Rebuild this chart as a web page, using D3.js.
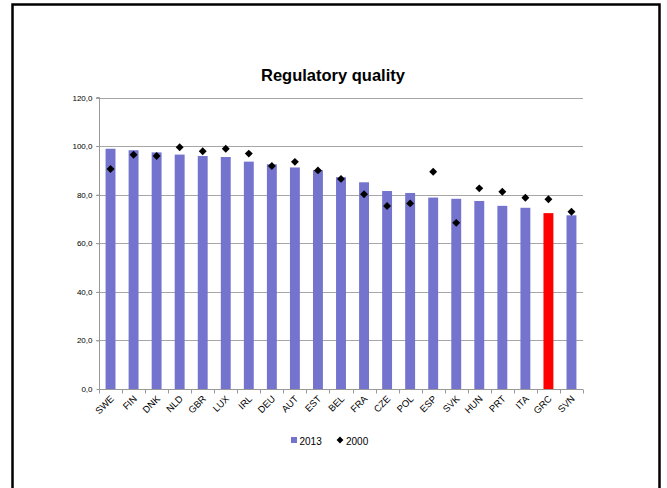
<!DOCTYPE html>
<html><head><meta charset="utf-8">
<script src="https://cdn.jsdelivr.net/npm/d3@7"></script>
<style>body{margin:0;background:#fff}svg{display:block}</style>
</head><body>
<svg id="c" width="667" height="488"></svg>
<script>
const categories = ["SWE","FIN","DNK","NLD","GBR","LUX","IRL","DEU","AUT","EST","BEL","FRA","CZE","POL","ESP","SVK","HUN","PRT","ITA","GRC","SVN"];
const values2013 = [98.9,98.3,97.4,96.5,95.9,95.5,93.6,92.5,91.2,90.1,87.2,85.1,81.5,80.7,78.8,78.3,77.4,75.4,74.6,72.4,71.5];
const values2000 = [90.6,96.4,95.9,99.5,97.9,98.9,96.9,91.8,93.5,90.0,86.5,80.2,75.3,76.4,89.4,68.4,82.6,81.2,78.7,78.1,73.0];
const highlight = "GRC";
const yTicks = [0,20,40,60,80,100,120];
const seriesNames = ["2013","2000"];

const svg = d3.select("#c");
const font = "'Liberation Sans', Arial, sans-serif";

// outer frame
svg.append("rect").attr("x",12.5).attr("y",4.5).attr("width",647).attr("height",500)
  .attr("fill","#fff").attr("stroke","#000").attr("stroke-width",2.5);

const x = d3.scaleBand().domain(categories).range([99,583]).paddingInner(0.57).paddingOuter(0.285);
const y = d3.scaleLinear().domain([0,120]).range([389,97.5]);

// title
svg.append("text").attr("x",333).attr("y",81).attr("text-anchor","middle")
  .attr("font-family",font).attr("font-weight","bold").attr("font-size",16.5).text("Regulatory quality");

// gridlines
svg.append("g").selectAll("line").data(yTicks.filter(d=>d>0)).join("line")
  .attr("x1",96).attr("x2",583).attr("y1",d=>Math.round(y(d))+0.5).attr("y2",d=>Math.round(y(d))+0.5)
  .attr("stroke","#a6a6a6").attr("stroke-width",1);

// y axis
const yAxis = svg.append("g").attr("transform","translate(99.5,0)")
  .call(d3.axisLeft(y).tickValues(yTicks).tickSize(3).tickFormat(d=>d3.format(".1f")(d).replace(".",",")));
yAxis.select(".domain").attr("stroke","#999").attr("d","M-3,"+(y(120))+"H0V"+y(0));
yAxis.selectAll(".tick line").attr("stroke","#999");
yAxis.selectAll(".tick text").attr("font-family",font).attr("font-size",8).attr("fill","#000").attr("x",-7);

// bars
svg.append("g").selectAll("rect").data(categories).join("rect")
  .attr("x",d=>x(d)).attr("width",x.bandwidth())
  .attr("y",(d,i)=>y(values2013[i])).attr("height",(d,i)=>y(0)-y(values2013[i]))
  .attr("fill",d=>d===highlight?"#ff0000":"#7474cf");

// x axis
const xAxis = svg.append("g").attr("transform","translate(0,389.5)");
xAxis.append("line").attr("x1",99).attr("x2",583).attr("stroke","#999");
xAxis.selectAll("line.t").data(d3.range(categories.length+1)).join("line").attr("class","t")
  .attr("x1",i=>Math.round(99+i*(484/categories.length))+0.5).attr("x2",i=>Math.round(99+i*(484/categories.length))+0.5)
  .attr("y1",0).attr("y2",4).attr("stroke","#999");
xAxis.selectAll("text").data(categories).join("text")
  .attr("transform",d=>`translate(${x(d)+x.bandwidth()/2+4},${10}) rotate(-45)`)
  .attr("text-anchor","end").attr("font-family",font).attr("font-size",9.5).attr("fill","#000").text(d=>d);

// diamonds 2000
const diamond = d3.symbol().type(d3.symbolDiamond2).size(40);
svg.append("g").selectAll("path").data(categories).join("path")
  .attr("d",diamond).attr("transform",(d,i)=>`translate(${x(d)+x.bandwidth()/2},${y(values2000[i])})`)
  .attr("fill","#000");

// legend
const lg = svg.append("g").attr("font-family",font).attr("font-size",10);
lg.append("rect").attr("x",291).attr("y",437).attr("width",6).attr("height",6).attr("fill","#7474cf");
lg.append("text").attr("x",299.5).attr("y",444.5).text(seriesNames[0]);
lg.append("path").attr("d",d3.symbol().type(d3.symbolDiamond2).size(30)).attr("transform","translate(340,440)").attr("fill","#000");
lg.append("text").attr("x",346).attr("y",444.5).text(seriesNames[1]);
</script>
</body></html>
